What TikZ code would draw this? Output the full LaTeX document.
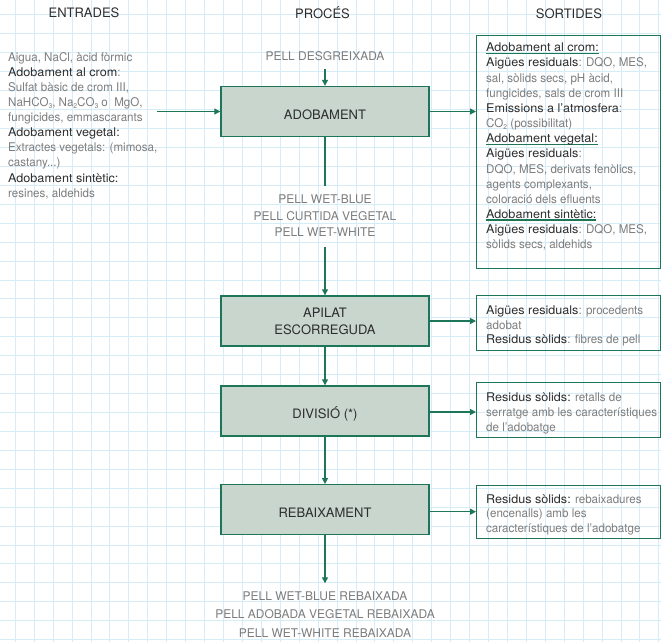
\documentclass[tikz,border=0pt]{standalone}
\usepackage{fontspec}
\setmainfont{TeX Gyre Heros}
\newfontfamily\graytxt[FakeStretch=0.965]{TeX Gyre Heros}
\newfontfamily\darktxt[FakeStretch=1.05]{TeX Gyre Heros}
\usetikzlibrary{arrows.meta}

\definecolor{gridblue}{RGB}{214,236,248}
\definecolor{leaf}{RGB}{30,118,88}
\definecolor{boxfill}{RGB}{200,214,206}
\definecolor{txtgray}{RGB}{125,125,125}
\definecolor{txtdark}{RGB}{45,45,45}

% fixed height for the first line of a text block
\newcommand\fl{\rule{0pt}{10pt}}
% dark heading words inside grey text
\newcommand\hd[1]{{\darktxt\color{txtdark}#1}}
% dark heading with a green underline
\newcommand\undl[1]{\setbox0\hbox{\hd{#1}}\rlap{\color{leaf}\rule[-2.2pt]{\wd0}{1.2pt}}\box0}
% chemical subscript
\newcommand\chsub[1]{\raisebox{-1.5pt}{\fontsize{7}{7}\selectfont #1}}

\begin{document}
\begin{tikzpicture}[x=1pt,y=-1pt,
  every node/.style={inner sep=0pt},
  proc/.style={draw=leaf, line width=1.4pt, fill=boxfill,
    minimum width=208pt, minimum height=50pt, text=txtdark,
    font=\fontsize{13}{17}\selectfont, align=center},
  onel/.style={text height=15.3pt, text depth=0pt},
  outbox/.style={draw=leaf, line width=1.3pt, anchor=north west,
    minimum width=183.5pt},
  link/.style={draw=leaf, line width=1.2pt},
  arr/.style={link, -{Triangle[length=6pt,width=6pt]}},
  lbl/.style={text=txtgray, align=center, anchor=north},
  col/.style={text=txtdark, font=\fontsize{13}{15}\selectfont, anchor=base},
  list/.style={text=txtgray, align=left, anchor=north west}]

% paper and grid
\useasboundingbox (0,0) rectangle (661,642);
\fill[white] (0,0) rectangle (661,642);
\foreach \k in {0,...,34}
  \draw[gridblue, line width=1pt] ({15.3+18.93*\k},0) -- ++(0,642);
\foreach \k in {0,...,33}
  \draw[gridblue, line width=1pt] (0,{15+18.93*\k}) -- ++(661,0);

% column headings
\node[col] (hin)   at (84,18)    {ENTRADES};
\node[col] (hproc) at (322.5,18.5) {PROCÉS};
\node[col] (hout)  at (569,18.5) {SORTIDES};

% process chain
\node[lbl, font=\fontsize{12}{15}\selectfont] (desgr) at (325,50.3) {\fl PELL DESGREIXADA};
\node[proc, onel] (adob) at (325,111.5) {ADOBAMENT};
\node[lbl, font=\fontsize{12}{16.5}\selectfont] (wetblue) at (325,193.3)
  {\fl PELL WET-BLUE\\PELL CURTIDA VEGETAL\\PELL WET-WHITE};
\node[proc] (apilat) at (325,321) {APILAT\\ESCORREGUDA};
\node[proc, onel] (divis) at (325,411) {DIVISIÓ (*)};
\node[proc, onel] (rebaix) at (325,509.7) {REBAIXAMENT};
\node[lbl, font=\fontsize{12}{18.3}\selectfont] (final) at (325,590.3)
  {\fl PELL WET-BLUE REBAIXADA\\PELL ADOBADA VEGETAL REBAIXADA\\PELL WET-WHITE REBAIXADA};

% inputs
\coordinate (inlet) at (157,111.5);
\node[list, font=\graytxt\fontsize{12}{15.1}\selectfont] (inputs) at (8,51)
  {\fl Aigua, NaCl, àcid fòrmic\\
   \hd{Adobament al crom}:\\
   Sulfat bàsic de crom III,\\
   NaHCO\chsub{3}, Na\chsub{2}CO\chsub{3} o\ \ MgO,\\
   fungicides, emmascarants\\
   \hd{Adobament vegetal:}\\
   Extractes vegetals: (mimosa,\\
   castany...)\\
   \hd{Adobament sintètic:}\\
   resines, aldehids};

% outputs
\node[outbox, minimum height=233pt] (out1) at (476,35) {};
\node[list, font=\graytxt\fontsize{12}{15.15}\selectfont] (out1txt) at (486,41.6)
  {\fl\undl{Adobament al crom:}\\
   \hd{Aigües residuals}: DQO, MES,\\
   sal, sòlids secs, pH àcid,\\
   fungicides, sals de crom III\\
   \hd{Emissions a l’atmosfera}:\\
   CO\chsub{2} (possibilitat)\\
   \undl{Adobament vegetal:}\\
   \hd{Aigües residuals}:\\
   DQO, MES, derivats fenòlics,\\
   agents complexants,\\
   coloració dels efluents\\
   \undl{Adobament sintètic:}\\
   \hd{Aigües residuals}: DQO, MES,\\
   sòlids secs, aldehids};

\node[outbox, minimum height=55pt] (out2) at (476,295) {};
\node[list, font=\graytxt\fontsize{12}{14.5}\selectfont] (out2txt) at (486,304.3)
  {\fl\hd{Aigües residuals}: procedents\\
   adobat\\
   \hd{Residus sòlids}: fibres de pell};

\node[outbox, minimum height=55pt] (out3) at (476,381.7) {};
\node[list, font=\graytxt\fontsize{12}{15}\selectfont] (out3txt) at (486,391)
  {\fl\hd{Residus sòlids:} retalls de\\
   serratge amb les característiques\\
   de l’adobatge};

\node[outbox, minimum height=53pt] (out4) at (476,485) {};
\node[list, font=\graytxt\fontsize{12}{14.4}\selectfont] (out4txt) at (486,493.3)
  {\fl\hd{Residus sòlids:} rebaixadures\\
   (encenalls) amb les\\
   característiques de l’adobatge};

% connectors
\draw[arr] (inlet) -- (adob.west);
\draw[arr, shorten <=7.7pt] (desgr.south) -- (adob.north);
\draw[link, shorten >=7pt] (adob.south) -- (wetblue.north);
\draw[arr, shorten <=10.5pt] (wetblue.south) -- (apilat.north);
\draw[arr] (apilat.south) -- (divis.north);
\draw[arr] (divis.south) -- (rebaix.north);
\draw[arr, shorten >=7pt] (rebaix.south) -- (final.north);

\draw[arr] (adob.east) -- (adob.east -| out1.west);
\draw[arr] (apilat.east) -- (apilat.east -| out2.west);
\draw[arr] ([yshift=-1pt]divis.east) -- ([yshift=-1pt]divis.east -| out3.west);
\draw[arr] ([yshift=-2pt]rebaix.east) -- ([yshift=-2pt]rebaix.east -| out4.west);
\end{tikzpicture}
\end{document}
